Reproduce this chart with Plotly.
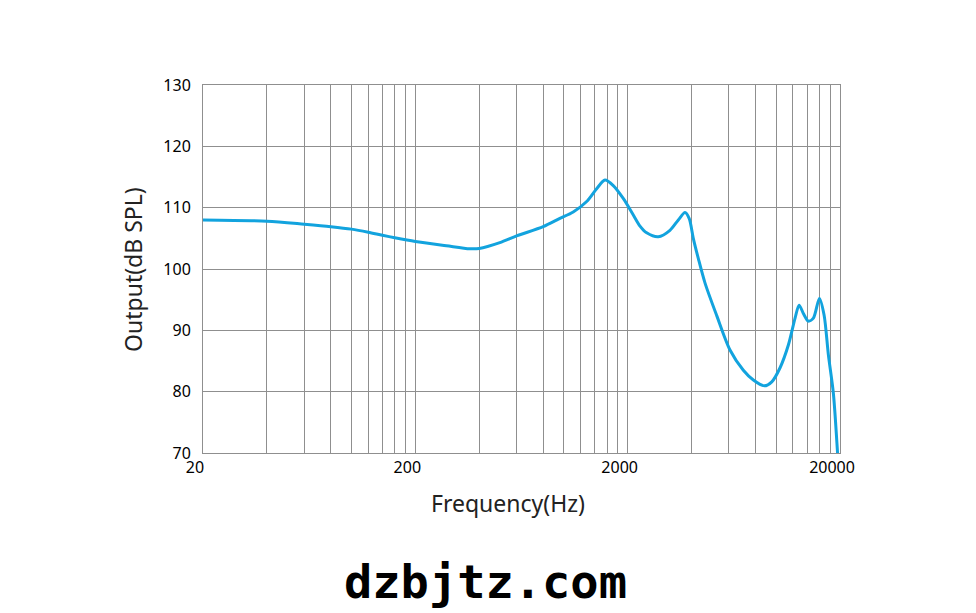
import plotly.graph_objects as go

# Frequency response
freq_hz = [20, 40, 60, 80, 100, 120, 140, 160, 200, 280, 361, 400, 500, 600, 800,
           959, 1108, 1282, 1429, 1563, 1711, 1906, 2126, 2286, 2458, 2787, 3163,
           3464, 3724, 3900, 4075, 4304, 4629, 5254, 6067, 7011, 7817, 8807,
           9542, 10441, 11424, 12286, 12835, 13443, 14193, 14986, 15995, 16829,
           17633, 18616, 19443, 19700]
output_db = [108.0, 107.8, 107.3, 106.9, 106.5, 106.0, 105.5, 105.1, 104.5, 103.8,
             103.3, 103.35, 104.3, 105.4, 106.9, 108.25, 109.3, 111.0, 113.1, 114.5,
             113.6, 111.5, 108.8, 107.0, 105.9, 105.25, 106.3, 108.0, 109.2, 108.2,
             105.0, 101.7, 97.7, 92.4, 86.8, 83.5, 81.9, 80.95, 81.6, 83.9,
             87.6, 92.0, 94.1, 92.75, 91.5, 92.0, 95.2, 92.5, 86.0, 79.7, 70.4, 67.0]

x_tick_vals = [20, 200, 2000, 20000]
x_tick_text = ["20", "200", "2000", "20000"]
x_grid_vals = [20 * k * 10 ** d for d in range(3) for k in range(1, 11)]
y_tick_vals = [70, 80, 90, 100, 110, 120, 130]

GRID = "#8f8f8f"
FONT = "Noto Sans"

fig = go.Figure()
fig.add_trace(go.Scatter(
    x=freq_hz, y=output_db, mode="lines",
    line=dict(color="#12a3de", width=3, shape="spline", smoothing=0.8),
    hoverinfo="x+y", showlegend=False,
))

fig.update_layout(
    width=976, height=613,
    margin=dict(l=195, r=144, t=77, b=168),
    paper_bgcolor="white", plot_bgcolor="white",
    font=dict(family=FONT, color="black", size=16),
    xaxis=dict(
        type="log", range=[1.30103, 4.30103],
        tickmode="array", tickvals=x_tick_vals, ticktext=x_tick_text,
        showgrid=False, ticks="", ticklabelshift=-8,
        tickfont=dict(size=16, family=FONT),
        minor=dict(tickmode="array", tickvals=x_grid_vals, showgrid=True,
                   gridcolor=GRID, gridwidth=1, ticks=""),
        showline=True, linecolor=GRID, linewidth=1, mirror=True,
        zeroline=False,
    ),
    yaxis=dict(
        range=[70, 130], tickmode="array", tickvals=y_tick_vals,
        showgrid=True, gridcolor=GRID, gridwidth=1, ticks="",
        ticklabelstandoff=8,
        tickfont=dict(size=16, family=FONT),
        showline=True, linecolor=GRID, linewidth=1, mirror=True,
        zeroline=False,
    ),
    annotations=[
        dict(text="Frequency(Hz)", xref="paper", yref="paper", x=0.479, y=-0.136,
             xanchor="center", yanchor="middle", showarrow=False,
             font=dict(size=23, family=FONT, color="#222")),
        dict(text="Output(dB SPL)", xref="paper", yref="paper", x=-0.11, y=0.5,
             xanchor="center", yanchor="middle", textangle=-90, showarrow=False,
             font=dict(size=23, family=FONT, color="#222")),
        dict(text="<b>dzbjtz.com</b>", xref="paper", yref="paper", x=0.443, y=-0.35,
             xanchor="center", yanchor="middle", showarrow=False,
             font=dict(size=47, family="DejaVu Sans Mono", color="black")),
    ],
)

fig.write_html("out.html")
